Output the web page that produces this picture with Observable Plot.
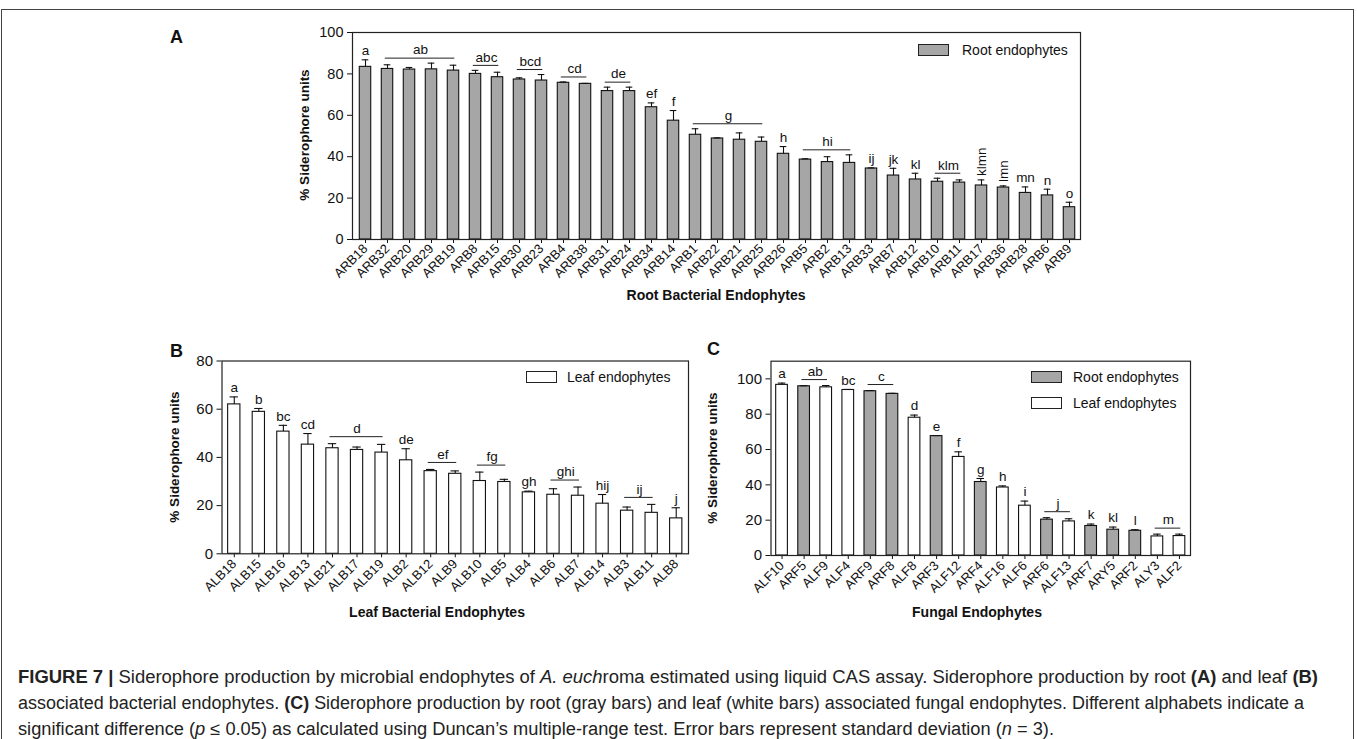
<!DOCTYPE html>
<html><head><meta charset="utf-8">
<script src="https://cdn.jsdelivr.net/npm/d3@7"></script>
<script src="https://cdn.jsdelivr.net/npm/@observablehq/plot@0.6"></script>
<style>
body{margin:0;background:#fff;}
#fig{position:relative;width:1357px;height:739px;overflow:hidden;font-family:'Liberation Sans',Arial,Helvetica,sans-serif;color:#111;}
#fig svg{position:absolute;overflow:visible;}
.plab{position:absolute;font-weight:bold;font-size:18px;line-height:1;}
.ytitle{position:absolute;font-weight:bold;font-size:13.5px;white-space:nowrap;transform:translate(-50%,-50%) rotate(-90deg);line-height:1;}
.xtitle{position:absolute;font-weight:bold;font-size:14px;white-space:nowrap;transform:translate(-50%,-50%);line-height:1;}
.sw{position:absolute;width:29px;height:10px;border:1px solid #222;}
.lt{position:absolute;font-size:14px;white-space:nowrap;transform:translateY(-50%);line-height:1;}
#border{position:absolute;left:1px;top:9px;width:1353px;height:760px;border:1px solid #444;box-sizing:border-box;}
#caption{position:absolute;left:18px;top:664px;font-family:'Liberation Sans',Arial,sans-serif;font-size:18px;line-height:26px;color:#222;}
#caption .cl{white-space:nowrap;transform-origin:0 0;width:max-content;}
</style></head>
<body>
<div id="fig">
  <div id="border"></div>
  <div class="plab" style="left:170px;top:28px">A</div>
  <div class="plab" style="left:170px;top:342px">B</div>
  <div class="plab" style="left:707px;top:340px">C</div>
  <div class="ytitle" style="left:305px;top:135px">% Siderophore units</div>
  <div class="ytitle" style="left:175px;top:457px">% Siderophore units</div>
  <div class="ytitle" style="left:713px;top:458px">% Siderophore units</div>
  <div class="xtitle" style="left:716px;top:295px">Root Bacterial Endophytes</div>
  <div class="xtitle" style="left:437px;top:612px">Leaf Bacterial Endophytes</div>
  <div class="xtitle" style="left:977px;top:612px">Fungal Endophytes</div>
  <div class="sw" style="left:918px;top:44px;background:#a6a6a6"></div>
  <div class="lt" style="left:962px;top:50px">Root endophytes</div>
  <div class="sw" style="left:526px;top:371px;background:#fff"></div>
  <div class="lt" style="left:567px;top:377px">Leaf endophytes</div>
  <div class="sw" style="left:1031px;top:371px;background:#a6a6a6"></div>
  <div class="lt" style="left:1073px;top:377px">Root endophytes</div>
  <div class="sw" style="left:1031px;top:397px;background:#fff"></div>
  <div class="lt" style="left:1073px;top:403px">Leaf endophytes</div>
  <div id="caption">
    <div class="cl" data-w="1300"><b>FIGURE 7 |</b> Siderophore production by microbial endophytes of <i>A. euch</i>roma estimated using liquid CAS assay. Siderophore production by root <b>(A)</b> and leaf <b>(B)</b></div>
    <div class="cl" data-w="1286">associated bacterial endophytes. <b>(C)</b> Siderophore production by root (gray bars) and leaf (white bars) associated fungal endophytes. Different alphabets indicate a</div>
    <div class="cl" data-w="1036">significant difference (<i>p</i> ≤ 0.05) as calculated using Duncan’s multiple-range test. Error bars represent standard deviation (<i>n</i> = 3).</div>
  </div>
</div>
<script>
// ---------- Panel A: root bacterial endophytes ----------
const rootBactNames = ["ARB18","ARB32","ARB20","ARB29","ARB19","ARB8","ARB15","ARB30","ARB23","ARB4","ARB38","ARB31","ARB24","ARB34","ARB14","ARB1","ARB22","ARB21","ARB25","ARB26","ARB5","ARB2","ARB13","ARB33","ARB7","ARB12","ARB10","ARB11","ARB17","ARB36","ARB28","ARB6","ARB9"];
const rootBactValues = [83.4,82.4,82.1,82.2,81.6,80.0,78.4,77.3,76.8,75.7,75.2,71.7,71.7,63.9,57.4,50.6,48.8,48.2,47.2,41.4,38.6,37.4,37.0,34.3,30.9,29.0,27.9,27.5,26.1,25.1,22.5,21.3,15.6];
const rootBactSD = [3.4,2.0,1.0,3.0,2.6,1.7,2.4,0.8,2.9,0.4,0.2,1.9,1.9,2.1,4.9,2.9,0.3,3.3,2.3,3.5,0.4,2.6,3.9,0.3,3.5,3.0,1.7,1.3,2.7,0.8,2.9,3.0,2.4];
const rootBactLetters = [["a",0,0],["ab",1,4],["abc",5,6],["bcd",7,8],["cd",9,10],["de",11,12],["ef",13,13],["f",14,14],["g",15,18],["h",19,19],["hi",20,22],["ij",23,23],["jk",24,24],["kl",25,25],["klm",26,27],["klmn",28,28],["lmn",29,29],["mn",30,30],["n",31,31],["o",32,32]];
const rootBactVertical = ["klmn","lmn"];

// ---------- Panel B: leaf bacterial endophytes ----------
const leafBactNames = ["ALB18","ALB15","ALB16","ALB13","ALB21","ALB17","ALB19","ALB2","ALB12","ALB9","ALB10","ALB5","ALB4","ALB6","ALB7","ALB14","ALB3","ALB11","ALB8"];
const leafBactValues = [62.0,58.9,50.7,45.3,43.8,43.1,42.0,38.8,34.3,33.2,30.2,29.8,25.5,24.5,24.1,20.8,17.9,17.0,14.7];
const leafBactSD = [3.1,1.4,2.6,4.6,1.9,1.2,3.4,4.8,0.7,1.2,3.7,1.1,0.5,2.5,3.6,3.8,1.5,3.5,4.4];
const leafBactLetters = [["a",0,0],["b",1,1],["bc",2,2],["cd",3,3],["d",4,6],["de",7,7],["ef",8,9],["fg",10,11],["gh",12,12],["ghi",13,14],["hij",15,15],["ij",16,17],["j",18,18]];

// ---------- Panel C: fungal endophytes ----------
const fungalNames = ["ALF10","ARF5","ALF9","ALF4","ARF9","ARF8","ALF8","ARF3","ALF12","ARF4","ALF16","ALF6","ARF6","ALF13","ARF7","ARY5","ARF2","ALY3","ALF2"];
const fungalValues = [96.6,95.8,95.2,93.7,93.0,91.5,78.0,67.6,55.8,41.6,38.5,28.2,20.3,19.3,16.7,14.6,14.0,10.8,11.0];
const fungalSD = [1.0,0.3,1.0,0.3,0.4,0.3,1.5,0.3,2.9,2.0,0.9,2.6,1.1,1.5,1.1,1.5,0.6,1.3,1.1];
const fungalOrigin = ["Leaf","Root","Leaf","Leaf","Root","Root","Leaf","Root","Leaf","Root","Leaf","Leaf","Root","Leaf","Root","Root","Root","Leaf","Leaf"];
const fungalLetters = [["a",0,0],["ab",1,2],["bc",3,3],["c",4,5],["d",6,6],["e",7,7],["f",8,8],["g",9,9],["h",10,10],["i",11,11],["j",12,13],["k",14,14],["kl",15,15],["l",16,16],["m",17,18]];

const originColor = {Root: "#a6a6a6", Leaf: "#ffffff"};
const FONT = "'Liberation Sans', Arial, sans-serif";

function panel(o) {
  const n = o.names.length;
  const data = o.names.map((name, i) => ({i, name, v: o.values[i], top: o.values[i] + o.sd[i], fill: o.fills[i]}));
  const lab = o.letters.map(([text, a, b]) => ({
    text, a, b, mid: (a + b) / 2,
    top: d3.max(data.slice(a, b + 1), d => d.top),
    group: a !== b,
    vert: (o.vertical || []).includes(text)
  }));
  const groups = lab.filter(d => d.group);
  const singles = lab.filter(d => !d.group && !d.vert);
  const verts = lab.filter(d => d.vert);
  const chart = Plot.plot({
    width: o.width, height: o.height,
    marginLeft: o.m[0], marginRight: o.m[1], marginTop: o.m[2], marginBottom: o.m[3],
    style: {fontFamily: FONT, fontSize: "13px", color: "#111", background: "transparent", overflow: "visible"},
    x: {type: "linear", domain: [-0.5, n - 0.5], range: o.xRange, label: null},
    y: {domain: o.yDomain, label: null},
    color: {type: "identity"},
    marks: [
      Plot.rect(data, {x1: d => d.i - o.hw, x2: d => d.i + o.hw, y1: 0, y2: "v", fill: "fill", stroke: "#111", strokeWidth: 1.1}),
      Plot.ruleX(data, {x: "i", y1: "v", y2: "top", stroke: "#111", strokeWidth: 1.1}),
      Plot.ruleY(data, {y: "top", x1: d => d.i - o.cap, x2: d => d.i + o.cap, stroke: "#111", strokeWidth: 1.1}),
      Plot.ruleY(groups, {y: "top", x1: d => d.a - 0.1, x2: d => d.b + 0.06, dy: o.lineDy, stroke: "#222", strokeWidth: 1}),
      Plot.text(groups, {x: "mid", y: "top", text: "text", dy: o.groupTextDy, fontSize: 13.5, fill: "#111"}),
      Plot.text(singles, {x: "mid", y: "top", text: "text", dy: o.singleDy, fontSize: 13.5, fill: "#111"}),
      Plot.text(verts, {x: "mid", y: "top", text: "text", rotate: -90, textAnchor: "start", dy: -4, fontSize: 13.5, fill: "#111"}),
      Plot.axisX({ticks: d3.range(n), tickFormat: i => o.names[i], tickRotate: -45, tickSize: 4, tickPadding: o.xPad, fontSize: o.xFont, label: null, stroke: "#111"}),
      Plot.axisY({ticks: o.yTicks, tickFormat: d => d, tickSize: 5, tickPadding: 4, fontSize: o.yFont, label: null, stroke: "#111"}),
      Plot.frame({stroke: "#222", strokeWidth: 1.2})
    ]
  });
  chart.style.left = o.left + "px";
  chart.style.top = o.top + "px";
  document.getElementById("fig").appendChild(chart);
}

panel({
  names: rootBactNames, values: rootBactValues, sd: rootBactSD,
  fills: rootBactNames.map(() => originColor.Root),
  letters: rootBactLetters, vertical: rootBactVertical,
  left: 0, top: 0, width: 1357, height: 320, m: [352, 277, 32, 81],
  xRange: [354, 1080], yDomain: [0, 100], yTicks: [0, 20, 40, 60, 80, 100],
  hw: 0.26, cap: 0.15, lineDy: -5, groupTextDy: -13, singleDy: -9, xFont: 13, xPad: 3, yFont: 14.5
});
panel({
  names: leafBactNames, values: leafBactValues, sd: leafBactSD,
  fills: leafBactNames.map(() => originColor.Leaf),
  letters: leafBactLetters,
  left: 0, top: 330, width: 720, height: 300, m: [221.5, 32, 30.5, 76.7],
  xRange: [221.5, 688], yDomain: [0, 80], yTicks: [0, 20, 40, 60, 80],
  hw: 0.25, cap: 0.17, lineDy: -7, groupTextDy: -15, singleDy: -9, xFont: 13, xPad: 4, yFont: 15
});
panel({
  names: fungalNames, values: fungalValues, sd: fungalSD,
  fills: fungalOrigin.map(k => originColor[k]),
  letters: fungalLetters,
  left: 700, top: 330, width: 657, height: 300, m: [70.5, 167, 30.7, 75],
  xRange: [770.5 - 700, 1190 - 700], yDomain: [0, 110], yTicks: [0, 20, 40, 60, 80, 100],
  hw: 0.265, cap: 0.17, lineDy: -6, groupTextDy: -14, singleDy: -9, xFont: 13, xPad: 4, yFont: 15
});

// condense each caption line so it spans the same width as in the figure
document.querySelectorAll("#caption .cl").forEach(el => {
  const w = el.getBoundingClientRect().width;
  el.style.transform = `scaleX(${(+el.dataset.w) / w})`;
});
</script>
</body></html>
